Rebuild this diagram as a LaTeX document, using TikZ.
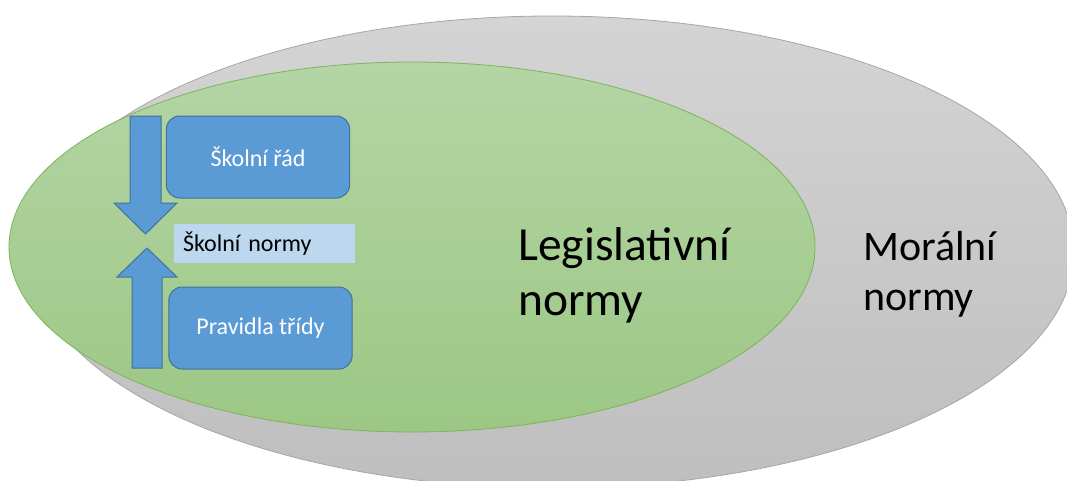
\documentclass[tikz,border=0pt]{standalone}
\usepackage{fontspec}
\setmainfont{Carlito}
\definecolor{grayTop}{HTML}{D4D4D4}
\definecolor{grayBot}{HTML}{BEBEBE}
\definecolor{grayEdge}{HTML}{A6A6A6}
\definecolor{greenTop}{HTML}{B4D5A5}
\definecolor{greenBot}{HTML}{9CC784}
\definecolor{greenEdge}{HTML}{7FB25E}
\definecolor{boxBlue}{HTML}{5B9BD5}
\definecolor{boxEdge}{HTML}{41719C}
\definecolor{lightBlue}{HTML}{BDD7EE}
\begin{document}
\begin{tikzpicture}[x=0.75pt,y=-0.75pt,
  bluebox/.style={draw=boxEdge, line width=0.75pt, fill=boxBlue, rounded corners=10pt,
    minimum width=137.5pt, minimum height=61.5pt, inner sep=0pt, text=white,
    font=\fontsize{18}{21}\selectfont},
  bluearrow/.style={draw=boxEdge, line width=0.75pt, fill=boxBlue},
  bigtext/.style={anchor=base west, align=left, inner sep=0pt, text=black}]
\useasboundingbox (0,0) rectangle (1067,480);
\clip (0,0) rectangle (1067,480);
% outer ellipse: moral norms
\path[draw=grayEdge, line width=0.6pt, top color=grayTop, bottom color=grayBot]
  (552,252) coordinate (moralc) ellipse [x radius=391.5pt, y radius=177pt];
% inner ellipse: legislative norms
\path[draw=greenEdge, line width=0.6pt, top color=greenTop, bottom color=greenBot]
  (412,247) coordinate (legc) ellipse [x radius=302.25pt, y radius=138.75pt];
% arrows
\draw[bluearrow] (130,116) -- (161,116) -- (161,203) -- (177,203) -- (145.5,234)
  -- (114,203) -- (130,203) -- cycle;
\draw[bluearrow] (132,368) -- (162,368) -- (162,277) -- (177,277) -- (147,248)
  -- (117,277) -- (132,277) -- cycle;
% boxes
\node[bluebox] (skolnirad) at (258,157) {Školní řád};
\node[bluebox] (pravidla) at (260.5,328) {Pravidla třídy};
\node[fill=lightBlue, text=black, text width=122.25pt, inner xsep=6.75pt, inner ysep=0pt,
  minimum height=29.25pt, align=left, font=\fontsize{18}{21}\selectfont]
  (skolninormy) at (264.5,243.5) {Školní normy};
% labels
\node[bigtext, font=\fontsize{35.6}{41.25}\selectfont] (legtext) at (518,315)
  {Legislativní\\normy};
\node[bigtext, font=\fontsize{31.5}{37.5}\selectfont] (moraltext) at (863,310)
  {Morální\\normy};
\end{tikzpicture}
\end{document}
